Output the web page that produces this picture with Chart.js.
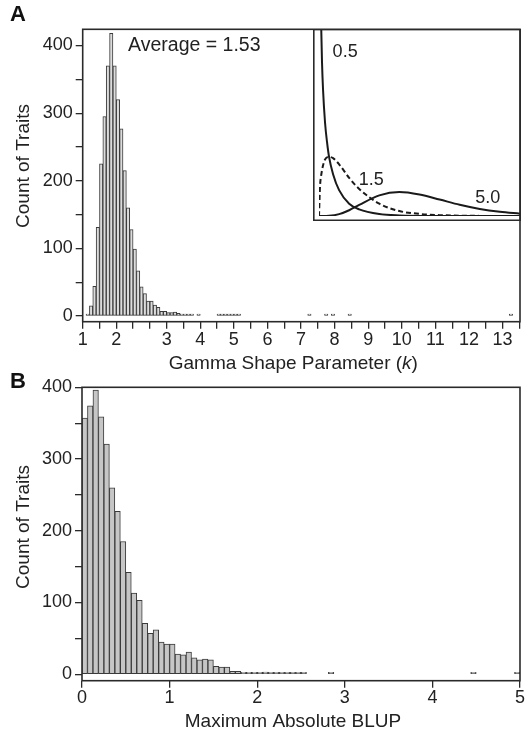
<!DOCTYPE html>
<html>
<head>
<meta charset="utf-8">
<script src="https://cdn.jsdelivr.net/npm/chart.js@4.4.1/dist/chart.umd.min.js"></script>
<style>
  html, body { margin: 0; padding: 0; background: #fff; }
  #wrap { position: relative; width: 525px; height: 732px; }
  canvas { position: absolute; }
</style>
</head>
<body>
<div id="wrap">
  <canvas id="chartA" width="525" height="380" style="left:0;top:0"></canvas>
  <canvas id="inset" width="208" height="192" style="left:313px;top:29px"></canvas>
  <canvas id="chartB" width="525" height="366" style="left:0;top:366px"></canvas>
</div>
<script>
// ---- Panel A: gamma shape parameter histogram (bins of 0.1 starting at 0.6)
const kBinStart = 0.6;
const kBinWidth = 0.1;
const kCounts = [2, 15, 44, 131, 225, 295, 370, 418, 370, 320, 277, 215, 160, 128, 99, 67, 43, 33,
  22, 22, 16, 13, 7, 7, 5, 5, 6, 4, 1, 2, 2, 1, 0, 1, 0, 0, 0, 0, 0, 1, 1, 1, 1, 1, 1, 1];
// isolated traits far out in the tail (bin starts)
const kTailBins = [7.2, 7.7, 7.9, 8.4, 13.2];
const kTailCounts = [1, 1, 1, 1, 1];

// tick marks every 0.5, labels as printed on the figure
const kTickMarks = [0.5, 1, 1.5, 2, 2.5, 3, 3.5, 4, 4.5, 5, 5.5, 6, 6.5, 7, 7.5, 8, 8.5, 9, 9.5,
  10, 10.5, 11, 11.5, 12, 12.5, 13, 13.5];
const kLabelPos = [0.5, 1.5, 3, 4, 5, 6, 7, 8, 9, 10, 11, 12, 13];
const kLabelText = ['1', '2', '3', '4', '5', '6', '7', '8', '9', '10', '11', '12', '13'];
const countTicks = [0, 50, 100, 150, 200, 250, 300, 350, 400];

// inset: gamma densities for shape 0.5, 1.5, 5.0
const g05x = [0.1, 0.15, 0.2, 0.3, 0.4, 0.5, 0.7, 1, 1.5, 2, 3, 4, 6, 8, 10];
const g05y = [1.61, 1.25, 1.03, 0.76, 0.6, 0.48, 0.34, 0.21, 0.1, 0.054, 0.016, 0.005, 0.0006, 0, 0];
const g15x = [0, 0.05, 0.1, 0.2, 0.3, 0.5, 0.7, 1, 1.5, 2, 3, 4, 5, 6, 8, 10];
const g15y = [0, 0.24, 0.32, 0.41, 0.46, 0.48, 0.47, 0.42, 0.31, 0.22, 0.1, 0.04, 0.017, 0.007, 0.001, 0];
const g50x = [0, 0.5, 1, 1.5, 2, 3, 4, 5, 6, 7, 8, 9, 10];
const g50y = [0, 0.002, 0.015, 0.047, 0.09, 0.168, 0.195, 0.175, 0.134, 0.091, 0.057, 0.034, 0.019];

// ---- Panel B: maximum absolute BLUP histogram (bins of 1/16 from 0)
const bBinWidth = 0.0625;
const bCounts = [357, 374, 396, 359, 321, 260, 227, 185, 142, 113, 103, 71, 57, 62, 45, 42, 42, 28,
  27, 31, 23, 20, 21, 20, 11, 10, 10, 4, 4, 1, 1, 1, 2, 3, 2, 2, 1, 1, 1, 1, 1];
const bTailBins = [2.8125, 4.4375, 4.9375];
const bTailCounts = [1, 1, 1];
const bTicks = [0, 1, 2, 3, 4, 5];

const FONT = '"Liberation Sans", Arial, Helvetica, sans-serif';
const INK = '#222';
Chart.defaults.font.family = FONT;
Chart.defaults.font.size = 18;
Chart.defaults.color = INK;

function binPoints(start, width, counts) {
  const pts = [];
  counts.forEach((c, i) => { if (c > 0) pts.push({ x: start + (i + 0.5) * width, y: c }); });
  return pts;
}
function tailPoints(bins, width, counts) {
  return bins.map((b, i) => ({ x: b + width / 2, y: counts[i] }));
}

// box, panel letter, axis titles, free text
const frame = {
  id: 'frame',
  afterDraw(chart, args, o) {
    const { ctx, chartArea: a } = chart;
    ctx.save();
    ctx.strokeStyle = '#2a2a2a';
    ctx.lineWidth = 1.6;
    ctx.strokeRect(a.left, a.top, a.right - a.left, a.bottom - a.top);
    ctx.fillStyle = '#111';
    ctx.font = 'bold 22px ' + FONT;
    ctx.textAlign = 'left';
    ctx.textBaseline = 'middle';
    ctx.fillText(o.letter, 10, o.letterY);

    ctx.fillStyle = INK;
    ctx.font = '19px ' + FONT;
    ctx.save();
    ctx.translate(24, o.yTitleY);
    ctx.rotate(-Math.PI / 2);
    ctx.textAlign = 'center';
    ctx.fillText(o.yTitle, 0, 0);
    ctx.restore();

    // x title with italic parts
    const fontOf = p => (p.it ? 'italic ' : '') + '19px ' + FONT;
    let w = 0;
    o.xTitle.forEach(p => { ctx.font = fontOf(p); w += ctx.measureText(p.t).width; });
    let x = (a.left + a.right) / 2 - 8 - w / 2;
    ctx.textAlign = 'left';
    o.xTitle.forEach(p => { ctx.font = fontOf(p); ctx.fillText(p.t, x, o.xTitleY); x += ctx.measureText(p.t).width; });

    if (o.note) {
      ctx.font = '19.5px ' + FONT;
      const xs = chart.scales.x, ys = chart.scales.y;
      ctx.fillText(o.note.text, xs.getPixelForValue(o.note.x), ys.getPixelForValue(o.note.y));
    }
    ctx.restore();
  }
};

function tickGrid() {
  return { display: true, drawOnChartArea: false, drawTicks: true, tickLength: 7, color: '#2a2a2a', lineWidth: 1.3 };
}

function histogram(canvasId, cfg) {
  return new Chart(document.getElementById(canvasId), {
    type: 'bar',
    data: {
      datasets: [{
        data: cfg.points,
        backgroundColor: cfg.fill,
        borderColor: '#3a3a3a',
        borderWidth: 1,
        borderSkipped: false,
        minBarLength: 2,
        barPercentage: 1,
        categoryPercentage: 1
      }]
    },
    options: {
      responsive: false,
      maintainAspectRatio: false,
      animation: false,
      layout: { padding: { top: cfg.padTop, right: cfg.padRight, left: 0, bottom: 0 } },
      plugins: { legend: { display: false }, tooltip: { enabled: false }, frame: cfg.frame },
      scales: {
        x: {
          type: 'linear', offset: false, min: cfg.xMin, max: cfg.xMax,
          grid: { ...tickGrid(), offset: false },
          border: { display: false },
          afterBuildTicks: s => { s.ticks = cfg.xTicks.map(v => ({ value: v })); },
          afterFit: s => { s.height = cfg.xHeight; },
          ticks: {
            autoSkip: false, maxRotation: 0, padding: cfg.xPad, color: INK,
            callback: cfg.xLabel
          }
        },
        y: {
          min: cfg.yMin, max: cfg.yMax,
          grid: tickGrid(),
          border: { display: false },
          afterBuildTicks: s => { s.ticks = countTicks.map(v => ({ value: v })); },
          afterFit: s => { s.width = cfg.yWidth; },
          ticks: {
            autoSkip: false, padding: 3, color: INK,
            callback: v => (v % 100 === 0 ? String(v) : '')
          }
        }
      }
    },
    plugins: [frame]
  });
}

histogram('chartA', {
  points: binPoints(kBinStart, kBinWidth, kCounts).concat(tailPoints(kTailBins, kBinWidth, kTailCounts)),
  fill: '#dcdcdc',
  padTop: 29.3, padRight: 5,
  xMin: 0.5, xMax: 13.52, xTicks: kTickMarks, xHeight: 58.3, xPad: 1,
  xLabel: v => { const i = kLabelPos.findIndex(p => Math.abs(p - v) < 1e-6); return i < 0 ? '' : kLabelText[i]; },
  yMin: -8.4, yMax: 424, yWidth: 82.7,
  frame: {
    letter: 'A', letterY: 15, yTitle: 'Count of Traits', yTitleY: 166,
    xTitle: [{ t: 'Gamma Shape Parameter (' }, { t: 'k', it: true }, { t: ')' }], xTitleY: 364,
    note: { text: 'Average = 1.53', x: 1.85, y: 400 }
  }
});

histogram('chartB', {
  points: binPoints(0, bBinWidth, bCounts).concat(tailPoints(bTailBins, bBinWidth, bTailCounts)),
  fill: '#c6c6c6',
  padTop: 21.3, padRight: 4,
  xMin: 0, xMax: 5, xTicks: bTicks, xHeight: 51.3, xPad: 0,
  xLabel: v => String(v),
  yMin: -9, yMax: 400, yWidth: 82,
  frame: {
    letter: 'B', letterY: 16, yTitle: 'Count of Traits', yTitleY: 161,
    xTitle: [{ t: 'Maximum Absolute BLUP' }], xTitleY: 355.5
  }
});

// ---- inset with the three gamma density curves
const insetLabels = {
  id: 'insetLabels',
  afterDraw(chart) {
    const { ctx } = chart;
    ctx.save();
    ctx.strokeStyle = '#2a2a2a';
    ctx.lineWidth = 1.6;
    ctx.strokeRect(0.8, 0.5, 206.5, 190.8);
    ctx.fillStyle = INK;
    ctx.font = '18px ' + FONT;
    ctx.textAlign = 'center';
    ctx.textBaseline = 'middle';
    const xs = chart.scales.x, ys = chart.scales.y;
    [['0.5', 1.3, 1.33], ['1.5', 2.6, 0.29], ['5.0', 8.4, 0.145]].forEach(([t, x, y]) => {
      ctx.fillText(t, xs.getPixelForValue(x), ys.getPixelForValue(y));
    });
    ctx.restore();
  }
};
const curve = (xs, ys, dash) => ({
  data: xs.map((x, i) => ({ x, y: ys[i] })),
  borderColor: '#1a1a1a', borderWidth: 2, borderDash: dash,
  pointRadius: 0, cubicInterpolationMode: 'monotone', fill: false
});
new Chart(document.getElementById('inset'), {
  type: 'line',
  data: { datasets: [curve(g05x, g05y, []), curve(g15x, g15y, [5, 3]), curve(g50x, g50y, [])] },
  options: {
    responsive: false, maintainAspectRatio: false, animation: false,
    layout: { padding: { left: 6, top: 0, right: 1, bottom: 5 } },
    plugins: { legend: { display: false }, tooltip: { enabled: false } },
    scales: {
      x: { type: 'linear', min: 0, max: 10, display: false },
      y: { min: 0, max: 1.52, display: false }
    }
  },
  plugins: [insetLabels]
});
</script>
</body>
</html>
